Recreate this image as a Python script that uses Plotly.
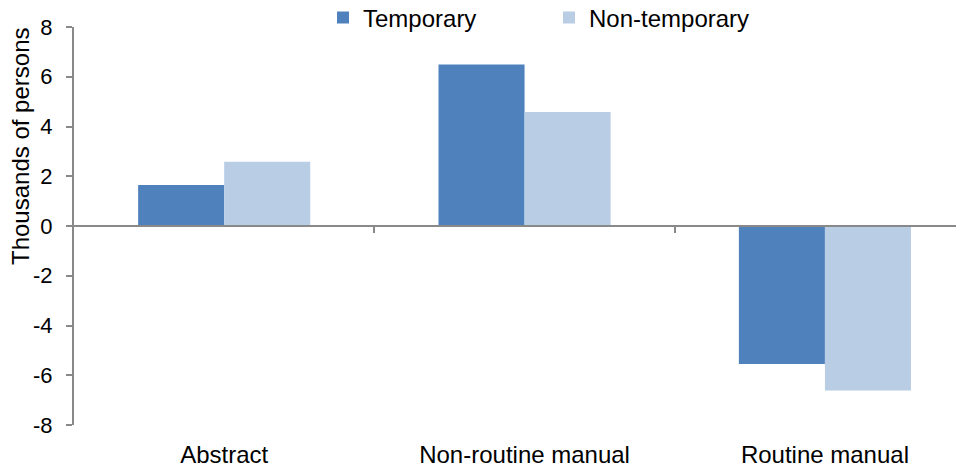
import plotly.graph_objects as go

# data
categories = ['Abstract', 'Non-routine manual', 'Routine manual']
temporary = [1.65, 6.49, -5.55]
non_temporary = [2.58, 4.58, -6.61]
y_ticks = [-8, -6, -4, -2, 0, 2, 4, 6, 8]
y_tick_text = ['-8', '-6', '-4', '-2', '0', '2', '4', '6', '8']

FONT = 'Liberation Sans, Arial, sans-serif'
AXIS_GREY = '#898989'

fig = go.Figure()
fig.add_trace(go.Bar(x=categories, y=temporary, name='Temporary',
                     marker_color='#4F81BD', marker_line_width=0))
fig.add_trace(go.Bar(x=categories, y=non_temporary, name='Non-temporary',
                     marker_color='#B9CDE5', marker_line_width=0))

# page body adds an 8px offset, margins are set to compensate
fig.update_layout(
    width=964, height=468,
    margin=dict(l=66, r=8, t=19, b=51, autoexpand=False),
    paper_bgcolor='white', plot_bgcolor='white',
    font=dict(family=FONT, size=24, color='black'),
    barmode='group', bargap=0.427, bargroupgap=0,
    showlegend=True,
    legend=dict(orientation='h', xref='container', yref='container',
                x=315 / 964, xanchor='left', y=1 - 10 / 468, yanchor='middle',
                entrywidth=181, entrywidthmode='pixels',
                font=dict(size=24), bgcolor='rgba(0,0,0,0)'),
    xaxis=dict(range=[-0.5, 2.463], showline=False, ticks='',
               showgrid=False, zeroline=False, ticklabelstandoff=13,
               tickfont=dict(size=24), automargin=False),
    # horizontal axis line sitting at y = 0 with ticks between categories
    xaxis2=dict(overlaying='x', anchor='free', position=0.5,
                range=[-0.5, 2.463], tickvals=[0.5, 1.5],
                showticklabels=False, ticks='outside', ticklen=6,
                tickwidth=2, tickcolor=AXIS_GREY, showline=True,
                linecolor=AXIS_GREY, linewidth=2, showgrid=False,
                zeroline=False, layer='above traces', automargin=False),
    yaxis=dict(range=[-8, 8], tickvals=y_ticks, ticktext=y_tick_text,
               showline=True, linecolor=AXIS_GREY, linewidth=2,
               ticks='outside', ticklen=6, tickwidth=2, tickcolor=AXIS_GREY,
               showgrid=False, zeroline=False, ticklabelstandoff=9,
               tickfont=dict(size=22), automargin=False),
)

# the dummy trace keeps xaxis2 alive so it draws
fig.add_trace(go.Scatter(x=[None], y=[None], xaxis='x2', showlegend=False,
                         hoverinfo='skip'))

fig.add_annotation(text='Thousands of persons', textangle=-90,
                   xref='paper', yref='paper', x=(12 - 66) / 890,
                   y=(417 - 139) / 398, xanchor='center', yanchor='middle',
                   showarrow=False, font=dict(size=24, color='black'))

fig.write_html('out.html')
